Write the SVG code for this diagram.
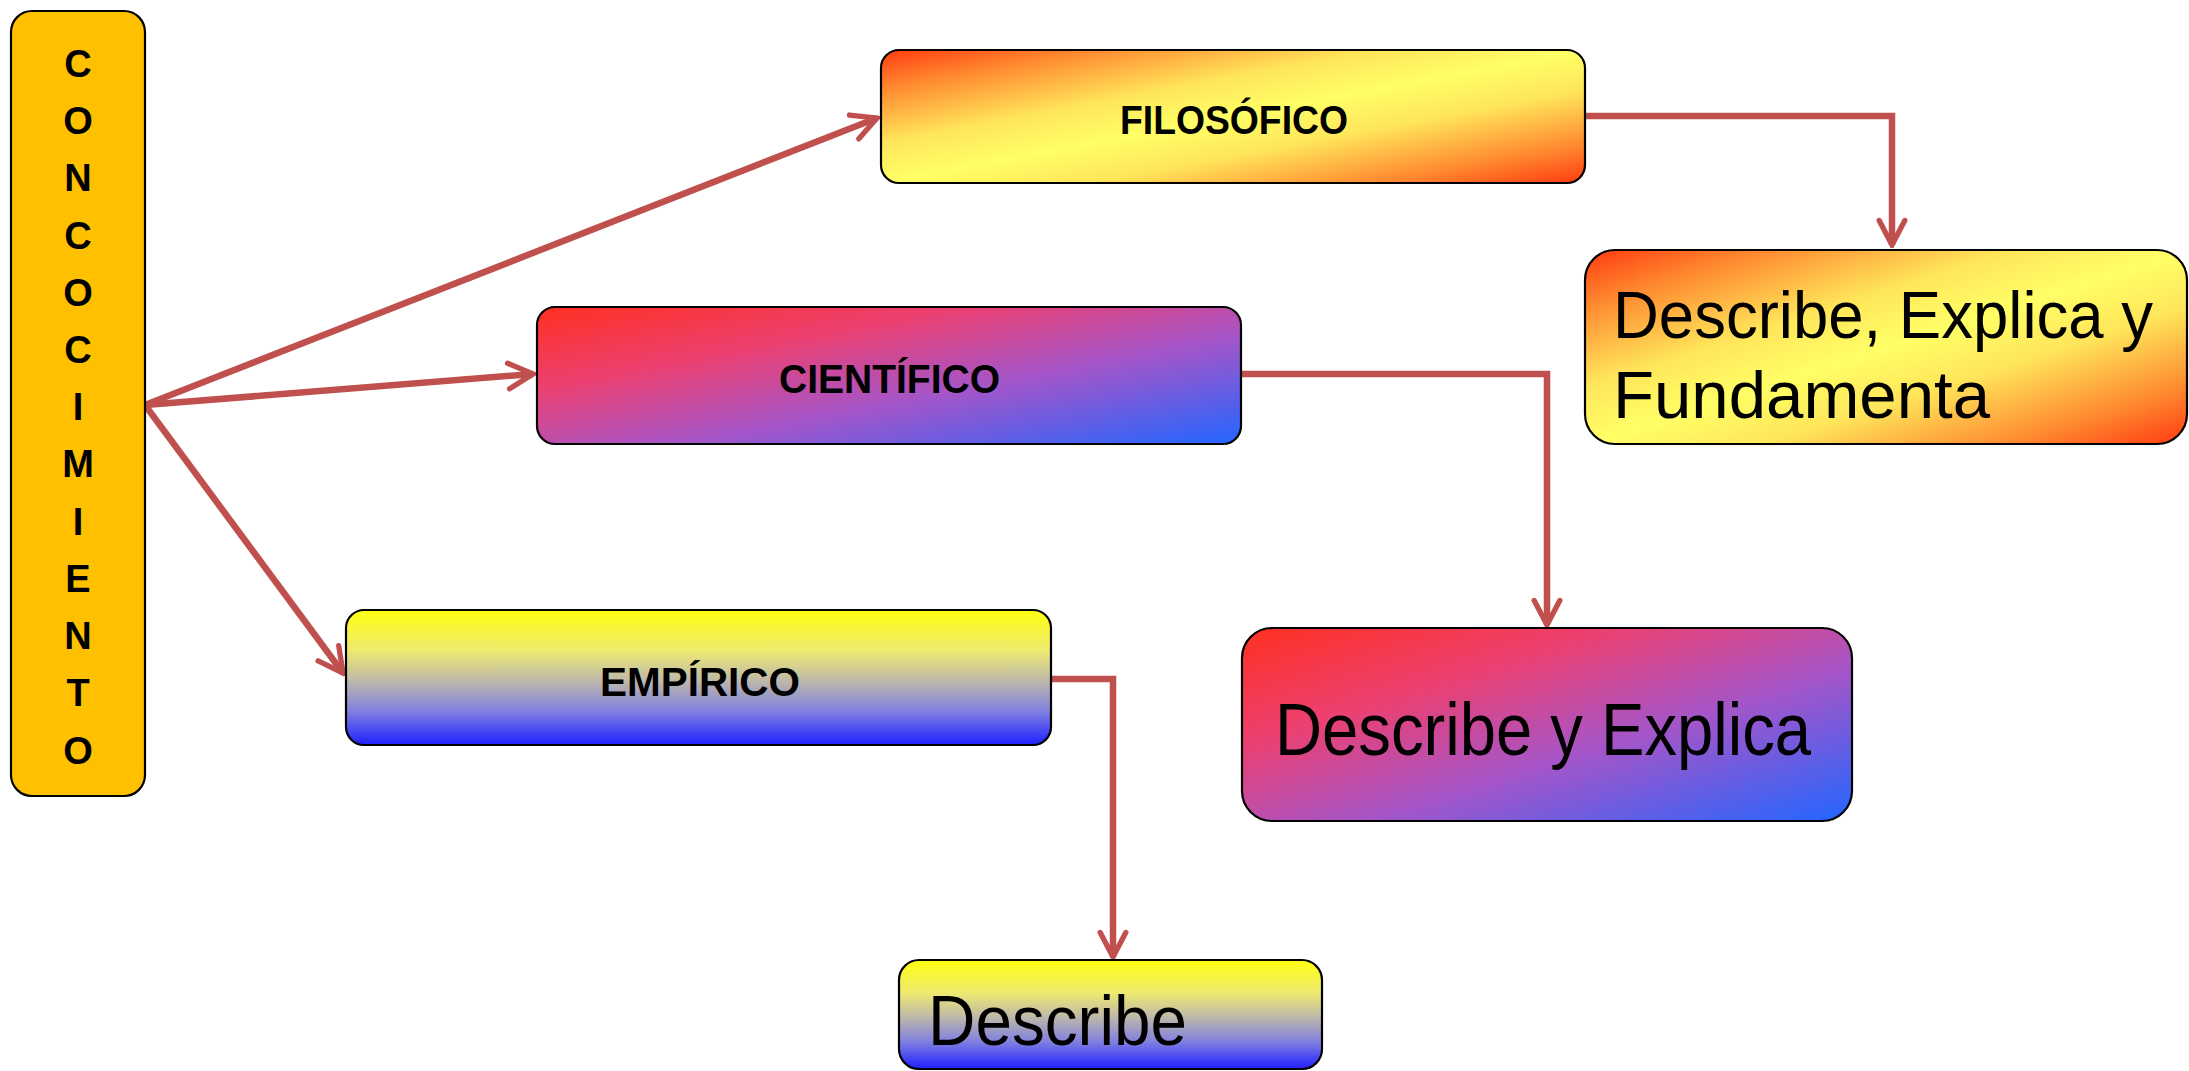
<svg xmlns="http://www.w3.org/2000/svg" width="2189" height="1071" viewBox="0 0 2189 1071">
<style>
.box{stroke:#000;stroke-width:2.2}
.lbl{font-family:"Liberation Sans",Arial,sans-serif;font-weight:bold;fill:#000}
.big{font-family:"Liberation Sans",Arial,sans-serif;fill:#000}
.conn{fill:none;stroke:#C0504D;stroke-width:6.5;stroke-linejoin:miter}
.v{font-family:"Liberation Sans",Arial,sans-serif;font-weight:bold;font-size:38px;fill:#000;text-anchor:middle}
</style>
<defs>
<linearGradient id="fire" x1="0" y1="0" x2="1" y2="1">
<stop offset="0" stop-color="#FF3A10"/>
<stop offset="0.15" stop-color="#FF8A30"/>
<stop offset="0.35" stop-color="#FFE55A"/>
<stop offset="0.5" stop-color="#FFFF66"/>
<stop offset="0.65" stop-color="#FFE55A"/>
<stop offset="0.85" stop-color="#FF8A30"/>
<stop offset="1" stop-color="#FF3A10"/>
</linearGradient>
<linearGradient id="sci" x1="0" y1="0" x2="1" y2="1">
<stop offset="0" stop-color="#FF3020"/>
<stop offset="0.3" stop-color="#EC4070"/>
<stop offset="0.6" stop-color="#A655C8"/>
<stop offset="1" stop-color="#2266FF"/>
</linearGradient>
<linearGradient id="emp" x1="0" y1="0" x2="0" y2="1">
<stop offset="0" stop-color="#FFFF10"/>
<stop offset="0.3" stop-color="#EEEA70"/>
<stop offset="0.5" stop-color="#C4BEA4"/>
<stop offset="0.75" stop-color="#8080E0"/>
<stop offset="1" stop-color="#2020FF"/>
</linearGradient>
<marker id="arr" viewBox="0 0 30 30" refX="27" refY="15" markerWidth="32" markerHeight="32" markerUnits="userSpaceOnUse" orient="auto">
<path d="M4,3 L27,15 L4,27" fill="none" stroke="#C0504D" stroke-width="5" stroke-linecap="round" stroke-linejoin="miter"/>
</marker>
</defs>
<rect width="2189" height="1071" fill="#fff"/>

<g id="connectors">
<path class="conn" d="M145,405 L877,118" marker-end="url(#arr)"/>
<path class="conn" d="M145,405 L533,374" marker-end="url(#arr)"/>
<path class="conn" d="M145,405 L343,673" marker-end="url(#arr)"/>
<path class="conn" d="M1585,116 L1892,116 L1892,245" marker-end="url(#arr)"/>
<path class="conn" d="M1241,374 L1547,374 L1547,625" marker-end="url(#arr)"/>
<path class="conn" d="M1051,679 L1113,679 L1113,957" marker-end="url(#arr)"/>
</g>

<g id="conocimiento">
<rect class="box" x="11" y="11" width="134" height="785" rx="21" fill="#FFC000"/>
<text class="v" x="78" y="77">C</text>
<text class="v" x="78" y="134">O</text>
<text class="v" x="78" y="191">N</text>
<text class="v" x="78" y="249">C</text>
<text class="v" x="78" y="306">O</text>
<text class="v" x="78" y="363">C</text>
<text class="v" x="78" y="420">I</text>
<text class="v" x="78" y="477">M</text>
<text class="v" x="78" y="535">I</text>
<text class="v" x="78" y="592">E</text>
<text class="v" x="78" y="649">N</text>
<text class="v" x="78" y="706">T</text>
<text class="v" x="78" y="764">O</text>
</g>

<g id="filosofico">
<rect class="box" x="881" y="50" width="704" height="133" rx="18" fill="url(#fire)"/>
<text class="lbl" x="1120" y="134" font-size="40" textLength="228" lengthAdjust="spacingAndGlyphs">FILOSÓFICO</text>
</g>

<g id="cientifico">
<rect class="box" x="537" y="307" width="704" height="137" rx="18" fill="url(#sci)"/>
<text class="lbl" x="779" y="393" font-size="40" textLength="221" lengthAdjust="spacingAndGlyphs">CIENTÍFICO</text>
</g>

<g id="empirico">
<rect class="box" x="346" y="610" width="705" height="135" rx="18" fill="url(#emp)"/>
<text class="lbl" x="600" y="696" font-size="40" textLength="200" lengthAdjust="spacingAndGlyphs">EMPÍRICO</text>
</g>

<g id="fundamenta">
<rect class="box" x="1585" y="250" width="602" height="194" rx="30" fill="url(#fire)"/>
<text class="big" x="1613" y="338" font-size="66" textLength="540" lengthAdjust="spacingAndGlyphs">Describe, Explica y</text>
<text class="big" x="1613" y="418" font-size="66" textLength="377" lengthAdjust="spacingAndGlyphs">Fundamenta</text>
</g>

<g id="explica">
<rect class="box" x="1242" y="628" width="610" height="193" rx="30" fill="url(#sci)"/>
<text class="big" x="1275" y="755" font-size="75" textLength="536" lengthAdjust="spacingAndGlyphs">Describe y Explica</text>
</g>

<g id="describe">
<rect class="box" x="899" y="960" width="423" height="109" rx="20" fill="url(#emp)"/>
<text class="big" x="928" y="1045" font-size="70" textLength="259" lengthAdjust="spacingAndGlyphs">Describe</text>
</g>
</svg>
